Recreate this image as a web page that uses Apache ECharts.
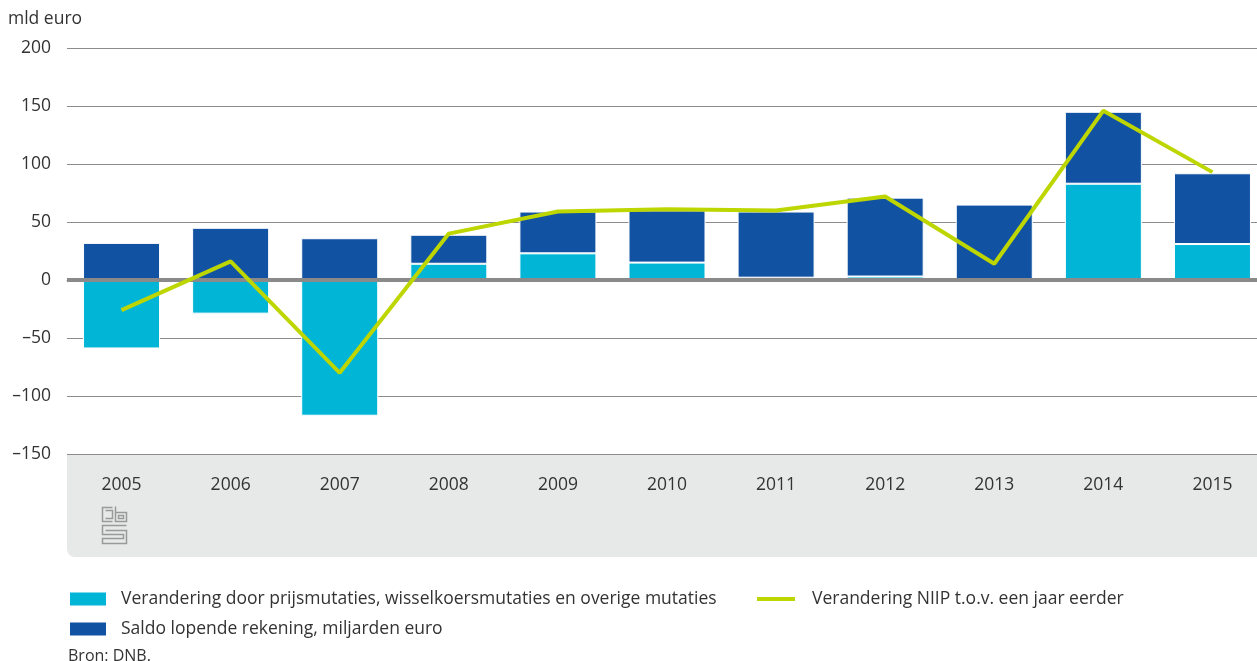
<!DOCTYPE html>
<html>
<head>
<meta charset="utf-8">
<script src="https://cdn.jsdelivr.net/npm/echarts@6/dist/echarts.min.js"></script>
<style>
  html, body { margin: 0; padding: 0; background: #fff; overflow: hidden; }
  #chart { width: 1267px; height: 661px; }
</style>
</head>
<body>
<div id="chart"></div>
<script>
// data
const years = ['2005', '2006', '2007', '2008', '2009', '2010', '2011', '2012', '2013', '2014', '2015'];
const prijsMutaties = [-59, -29, -117, 14, 23, 15, 2, 3, 0, 83, 31];
const saldoLopend = [32, 45, 36, 25, 36, 45, 57, 68, 65, 62, 61];
const niipVerandering = [-26, 16, -80, 40, 59, 61, 60, 72, 14, 146, 93];
const yTicks = { min: -150, max: 200, interval: 50 };

const names = [
    'Verandering door prijsmutaties, wisselkoersmutaties en overige mutaties',
    'Saldo lopende rekening, miljarden euro',
    'Verandering NIIP t.o.v. een jaar eerder'
];
const colors = ['#00b5d6', '#1152a2', '#bed600'];
const font = '"Open Sans", sans-serif';

// the plot runs a little past the right edge of the window, so the div is wider than the page
const myChart = echarts.init(document.getElementById('chart'));

const legendText = { color: '#333', fontSize: 17.5, fontFamily: font, padding: [0, 0, 0, 9] };

const option = {
    animation: false,
    color: colors,
    textStyle: { fontFamily: font },
    title: {
        text: 'mld euro',
        left: 8,
        top: 10,
        padding: 0,
        textStyle: { fontSize: 17.5, fontWeight: 'normal', color: '#333', fontFamily: font }
    },
    grid: { left: 67, right: 0, top: 48, bottom: 207 },
    legend: [
        {
            data: [names[0]], left: 68, top: 590, padding: 0, itemWidth: 38, itemHeight: 15, itemGap: 14,
            icon: 'rect', textStyle: legendText, selectedMode: false
        },
        {
            data: [names[1]], left: 68, top: 620, padding: 0, itemWidth: 38, itemHeight: 15, itemGap: 14,
            icon: 'rect', textStyle: legendText, selectedMode: false
        },
        {
            data: [{ name: names[2], icon: 'rect', itemStyle: { color: colors[2] } }],
            left: 757, top: 590, padding: 0, itemWidth: 38, itemHeight: 4, itemGap: 17,
            textStyle: Object.assign({}, legendText, { padding: [0, 0, 0, 12] }), selectedMode: false
        }
    ],
    xAxis: {
        type: 'category',
        data: years,
        axisLine: { lineStyle: { color: '#999', width: 1 } },
        axisTick: { show: false },
        axisLabel: { color: '#333', fontSize: 17.5, margin: 22, fontFamily: font }
    },
    yAxis: {
        type: 'value',
        min: yTicks.min,
        max: yTicks.max,
        interval: yTicks.interval,
        axisLine: { show: false },
        axisTick: { show: false },
        splitLine: { lineStyle: { color: '#8c8c8c', width: 1 } },
        axisLabel: {
            color: '#333', fontSize: 17.5, margin: 16, fontFamily: font,
            formatter: function (v) { return v < 0 ? '\u2013' + Math.abs(v) : String(v); }
        }
    },
    graphic: [
        {
            type: 'rect', z: -1,
            shape: { x: 67, y: 454, width: 1200, height: 103, r: [0, 0, 0, 8] },
            style: { fill: '#e7e8e8' }
        },
        {
            // cbs logo
            type: 'group', left: 100, top: 504, z: 1,
            children: [
                { type: 'polyline', shape: { points: [[11, 1], [1, 1], [1, 15], [11, 15]] }, style: { stroke: '#999', fill: null, lineWidth: 1.5 } },
                { type: 'polyline', shape: { points: [[4, 4], [11, 4], [11, 12], [4, 12]] }, style: { stroke: '#999', fill: null, lineWidth: 1.5 } },
                { type: 'polyline', shape: { points: [[14, 0], [14, 15], [25, 15], [25, 6], [14, 6]] }, style: { stroke: '#999', fill: null, lineWidth: 1.5 } },
                { type: 'rect', shape: { x: 17, y: 9, width: 5, height: 3 }, style: { stroke: '#999', fill: null, lineWidth: 1.5 } },
                { type: 'polyline', shape: { points: [[25, 19], [1, 19], [1, 28], [22, 28], [22, 32], [1, 32], [1, 37], [25, 37], [25, 24], [4, 24]] }, style: { stroke: '#999', fill: null, lineWidth: 1.5 } }
            ]
        },
        {
            type: 'text', left: 68, top: 648,
            style: { text: 'Bron: DNB.', fill: '#333', font: '16px "Open Sans", sans-serif' }
        }
    ],
    series: [
        {
            name: names[0],
            type: 'bar',
            stack: 'total',
            barWidth: 77,
            data: prijsMutaties,
            itemStyle: { color: colors[0], borderColor: '#fff', borderWidth: 1 },
            markLine: {
                silent: true,
                symbol: 'none',
                label: { show: false },
                lineStyle: { color: '#8a8a8a', width: 4, type: 'solid' },
                data: [{ yAxis: 0 }],
                z: 5
            }
        },
        {
            name: names[1],
            type: 'bar',
            stack: 'total',
            barWidth: 77,
            data: saldoLopend,
            itemStyle: { color: colors[1], borderColor: '#fff', borderWidth: 1 }
        },
        {
            name: names[2],
            type: 'line',
            data: niipVerandering,
            symbol: 'none',
            z: 6,
            lineStyle: { color: colors[2], width: 4 }
        }
    ]
};

myChart.setOption(option);
</script>
</body>
</html>
